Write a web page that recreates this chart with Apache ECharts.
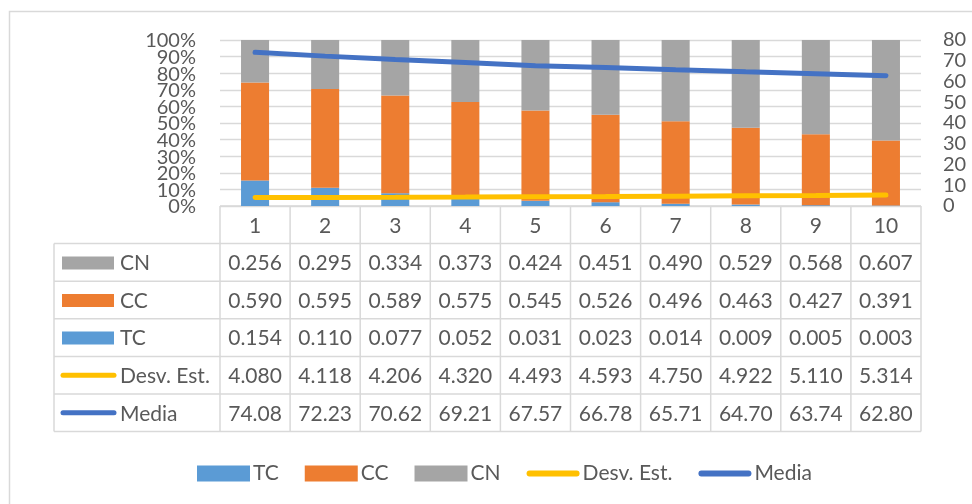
<!DOCTYPE html>
<html>
<head>
<meta charset="utf-8">
<script src="https://cdn.jsdelivr.net/npm/echarts@6/dist/echarts.min.js"></script>
<style>
html,body{margin:0;padding:0;background:#fff;}
#chart{width:972px;height:504px;}
</style>
</head>
<body>
<div id="chart"></div>
<script>
// ---- data ----
const categories = ['1','2','3','4','5','6','7','8','9','10'];
const TC = [0.154,0.110,0.077,0.052,0.031,0.023,0.014,0.009,0.005,0.003];
const CC = [0.590,0.595,0.589,0.575,0.545,0.526,0.496,0.463,0.427,0.391];
const CN = [0.256,0.295,0.334,0.373,0.424,0.451,0.490,0.529,0.568,0.607];
const DesvEst = [4.080,4.118,4.206,4.320,4.493,4.593,4.750,4.922,5.110,5.314];
const Media = [74.08,72.23,70.62,69.21,67.57,66.78,65.71,64.70,63.74,62.80];
const percentTicks = [0,0.1,0.2,0.3,0.4,0.5,0.6,0.7,0.8,0.9,1.0];

const C_TC = '#5B9BD5', C_CC = '#ED7D31', C_CN = '#A5A5A5', C_DE = '#FFC000', C_ME = '#4472C4';
const TXT = '#595959', LINE = '#D9D9D9';
const FONT = 'Lato';
const LINE_ICON = 'path://M3,0 L52,0 A3,3 0 0 1 52,6 L3,6 A3,3 0 0 1 3,0 Z';

const G = {left:220, right:51, top:40, height:166};
const chart = echarts.init(document.getElementById('chart'));

const option = {
  animation:false,
  textStyle:{fontFamily:FONT,color:TXT},
  grid:{left:G.left,right:G.right,top:G.top,height:G.height,containLabel:false},
  legend:{
    left:192, top:458, itemWidth:53, itemHeight:16, itemGap:26,
    symbolKeepAspect:true,
    textStyle:{fontFamily:FONT,fontSize:21,color:TXT,padding:[0,0,0,-2]},
    data:[
      {name:'TC',icon:'rect'},
      {name:'CC',icon:'rect'},
      {name:'CN',icon:'rect'},
      {name:'Desv. Est.',icon:LINE_ICON},
      {name:'Media',icon:LINE_ICON}
    ]
  },
  xAxis:{type:'category',data:categories,
    axisLine:{show:false},axisTick:{show:false},axisLabel:{show:false},splitLine:{show:false}},
  yAxis:[{
    type:'value',min:0,max:1,interval:0.1,
    axisLabel:{show:false},
    axisLine:{show:false},axisTick:{show:false},
    splitLine:{lineStyle:{color:LINE,width:1.3}}
  },{
    type:'value',min:0,max:80,interval:10,position:'right',
    axisLabel:{fontSize:20,color:TXT,fontFamily:FONT,margin:22,showMinLabel:true,showMaxLabel:true,hideOverlap:false},
    axisLine:{show:false},axisTick:{show:false},splitLine:{show:false}
  }],
  series:[
    {name:'TC',type:'bar',stack:'s',data:TC,barWidth:'40%',itemStyle:{color:C_TC}},
    {name:'CC',type:'bar',stack:'s',data:CC,itemStyle:{color:C_CC}},
    {name:'CN',type:'bar',stack:'s',data:CN,itemStyle:{color:C_CN}},
    {name:'Desv. Est.',type:'line',yAxisIndex:1,data:DesvEst,symbol:'none',
      lineStyle:{color:C_DE,width:5,cap:'round'},itemStyle:{color:C_DE}},
    {name:'Media',type:'line',yAxisIndex:1,data:Media,symbol:'none',
      lineStyle:{color:C_ME,width:5,cap:'round'},itemStyle:{color:C_ME}}
  ]
};
chart.setOption(option);

// ---- left axis labels + data table built from arrays ----
function buildTable(){
  const centers = categories.map((c,i)=>chart.convertToPixel({xAxisIndex:0},i));
  const colW = centers[1]-centers[0];
  const x0 = centers[0]-colW/2, x1 = centers[centers.length-1]+colW/2;
  const yAxisTop = chart.convertToPixel({yAxisIndex:0},0);
  const rowH = 37.6;
  const tableLeft = 54;
  const rows = [
    {name:'CN',vals:CN.map(v=>v.toFixed(3)),color:C_CN,kind:'bar'},
    {name:'CC',vals:CC.map(v=>v.toFixed(3)),color:C_CC,kind:'bar'},
    {name:'TC',vals:TC.map(v=>v.toFixed(3)),color:C_TC,kind:'bar'},
    {name:'Desv. Est.',vals:DesvEst.map(v=>v.toFixed(3)),color:C_DE,kind:'line'},
    {name:'Media',vals:Media.map(v=>v.toFixed(2)),color:C_ME,kind:'line'}
  ];
  const els = [];
  const yBottom = yAxisTop + rowH*(rows.length+1);
  const ls = {stroke:LINE,lineWidth:1.5};
  const font = '21px '+FONT;
  els.push({type:'rect',shape:{x:9.5,y:11.5,width:1000,height:600},style:{fill:null,stroke:LINE,lineWidth:1.5},silent:true});
  // left percent axis labels
  percentTicks.forEach(t=>{
    const y = chart.convertToPixel({yAxisIndex:0},t);
    els.push({type:'text',x:G.left-24,y:y+1,style:{text:Math.round(t*100)+'%',fill:TXT,font:'20px '+FONT,align:'right',verticalAlign:'middle'}});
  });
  els.push({type:'line',shape:{x1:x0,y1:yAxisTop,x2:x1,y2:yAxisTop},style:ls});
  for(let r=1;r<=rows.length+1;r++){
    const y = yAxisTop+rowH*r;
    els.push({type:'line',shape:{x1:tableLeft,y1:y,x2:x1,y2:y},style:ls});
  }
  for(let i=0;i<=categories.length;i++){
    const x = x0+colW*i;
    els.push({type:'line',shape:{x1:x,y1:yAxisTop,x2:x,y2:yBottom},style:ls});
  }
  els.push({type:'line',shape:{x1:tableLeft,y1:yAxisTop+rowH,x2:tableLeft,y2:yBottom},style:ls});
  categories.forEach((c,i)=>{
    els.push({type:'text',x:centers[i],y:yAxisTop+rowH/2+1,style:{text:c,fill:TXT,font:font,align:'center',verticalAlign:'middle'}});
  });
  rows.forEach((row,r)=>{
    const cy = yAxisTop+rowH*(r+1)+rowH/2+1;
    if(row.kind==='bar'){
      els.push({type:'rect',shape:{x:62,y:cy-7,width:52,height:13},style:{fill:row.color}});
    } else {
      els.push({type:'line',shape:{x1:63,y1:cy-1,x2:114,y2:cy-1},style:{stroke:row.color,lineWidth:5,lineCap:'round'}});
    }
    els.push({type:'text',x:120,y:cy,style:{text:row.name,fill:TXT,font:font,align:'left',verticalAlign:'middle'}});
    row.vals.forEach((v,i)=>{
      els.push({type:'text',x:centers[i],y:cy,style:{text:v,fill:TXT,font:font,align:'center',verticalAlign:'middle'}});
    });
  });
  chart.setOption({graphic:{elements:els}});
}
buildTable();
</script>
</body>
</html>
